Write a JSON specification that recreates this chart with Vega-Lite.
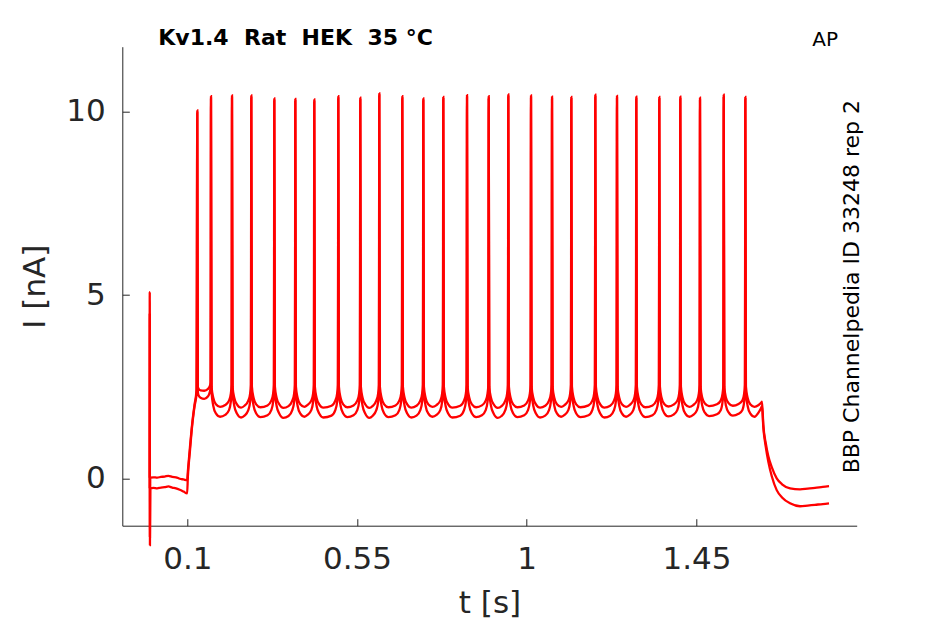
{
"$schema": "https://vega.github.io/schema/vega-lite/v6.json",
"width": 734.4,
"height": 479,
"autosize": {"type": "none"},
"padding": {"left": 122.3, "top": 46.7, "right": 88.3, "bottom": 98.3},
"background": "white",
"config": {"view": {"stroke": null}, "font": "DejaVu Sans"},
"title": {"text": "Kv1.4\u00a0 Rat\u00a0 HEK\u00a0 35 °C", "anchor": "start", "frame": "group", "dx": 36, "offset": -37, "baseline": "alphabetic", "fontSize": 22, "fontWeight": "bold", "font": "DejaVu Sans", "color": "#000000"},
"datasets": {
"A": [
{"t":0,"v":0.02},{"t":0.0004,"v":5.08},{"t":0.0009,"v":-1.82},{"t":0.0016,"v":0.02},
{"t":0.01,"v":0.03},{"t":0.02,"v":0.02},{"t":0.03,"v":0.04},{"t":0.04,"v":0.05},{"t":0.05,"v":0.07},{"t":0.06,"v":0.04},{"t":0.07,"v":0.03},{"t":0.08,"v":-0.01},{"t":0.09,"v":-0.03},{"t":0.0995,"v":-0.05},
{"t":0.1015,"v":0.2},{"t":0.107,"v":0.85},{"t":0.113,"v":1.5},{"t":0.119,"v":2.0},{"t":0.1245,"v":2.42},
{"t":0.1265,"v":10.03},{"t":0.128,"v":2.5},{"t":0.13,"v":2.44},{"t":0.135,"v":2.4},{"t":0.145,"v":2.39},{"t":0.155,"v":2.44},{"t":0.1598,"v":2.52},{"t":0.1618,"v":2.62},
{"t":0.1628,"v":10.42},{"t":0.1643,"v":2.5},{"t":0.1688,"v":2.2},{"t":0.1758,"v":2.02},{"t":0.1868,"v":1.95},{"t":0.2005,"v":2.0},{"t":0.2105,"v":2.12},{"t":0.2155,"v":2.32},{"t":0.2175,"v":2.55},
{"t":0.2185,"v":10.44},{"t":0.22,"v":2.5},{"t":0.2245,"v":2.2},{"t":0.2315,"v":2.02},{"t":0.2425,"v":1.93},{"t":0.2517,"v":1.98},{"t":0.2617,"v":2.12},{"t":0.2667,"v":2.32},{"t":0.2687,"v":2.55},
{"t":0.2697,"v":10.44},{"t":0.2712,"v":2.5},{"t":0.2757,"v":2.2},{"t":0.2827,"v":2.02},{"t":0.2937,"v":1.94},{"t":0.3127,"v":1.99},{"t":0.3227,"v":2.12},{"t":0.3277,"v":2.32},{"t":0.3297,"v":2.55},
{"t":0.3307,"v":10.36},{"t":0.3322,"v":2.5},{"t":0.3367,"v":2.2},{"t":0.3437,"v":2.02},{"t":0.3547,"v":1.92},{"t":0.3684,"v":1.97},{"t":0.3784,"v":2.12},{"t":0.3834,"v":2.32},{"t":0.3854,"v":2.55},
{"t":0.3864,"v":10.35},{"t":0.3879,"v":2.5},{"t":0.3924,"v":2.2},{"t":0.3994,"v":2.02},{"t":0.4104,"v":1.95},{"t":0.4187,"v":2.0},{"t":0.4287,"v":2.12},{"t":0.4337,"v":2.32},{"t":0.4357,"v":2.55},
{"t":0.4367,"v":10.33},{"t":0.4382,"v":2.5},{"t":0.4427,"v":2.2},{"t":0.4497,"v":2.02},{"t":0.4607,"v":1.93},{"t":0.4824,"v":1.98},{"t":0.4924,"v":2.12},{"t":0.4974,"v":2.32},{"t":0.4994,"v":2.55},
{"t":0.5004,"v":10.42},{"t":0.5019,"v":2.5},{"t":0.5064,"v":2.2},{"t":0.5134,"v":2.02},{"t":0.5244,"v":1.94},{"t":0.5407,"v":1.99},{"t":0.5507,"v":2.12},{"t":0.5557,"v":2.32},{"t":0.5577,"v":2.55},
{"t":0.5587,"v":10.38},{"t":0.5602,"v":2.5},{"t":0.5647,"v":2.2},{"t":0.5717,"v":2.02},{"t":0.5827,"v":1.92},{"t":0.5911,"v":1.97},{"t":0.6011,"v":2.12},{"t":0.6061,"v":2.32},{"t":0.6081,"v":2.55},
{"t":0.6091,"v":10.5},{"t":0.6106,"v":2.5},{"t":0.6151,"v":2.2},{"t":0.6221,"v":2.02},{"t":0.6331,"v":1.94},{"t":0.6521,"v":1.99},{"t":0.6621,"v":2.12},{"t":0.6671,"v":2.32},{"t":0.6691,"v":2.55},
{"t":0.6701,"v":10.42},{"t":0.6716,"v":2.5},{"t":0.6761,"v":2.2},{"t":0.6831,"v":2.02},{"t":0.6941,"v":1.93},{"t":0.7078,"v":1.98},{"t":0.7178,"v":2.12},{"t":0.7228,"v":2.32},{"t":0.7248,"v":2.55},
{"t":0.7258,"v":10.36},{"t":0.7273,"v":2.5},{"t":0.7318,"v":2.2},{"t":0.7388,"v":2.02},{"t":0.7498,"v":1.95},{"t":0.7608,"v":2.0},{"t":0.7708,"v":2.12},{"t":0.7758,"v":2.32},{"t":0.7778,"v":2.55},
{"t":0.7788,"v":10.4},{"t":0.7803,"v":2.5},{"t":0.7848,"v":2.2},{"t":0.7918,"v":2.02},{"t":0.8028,"v":1.93},{"t":0.8237,"v":1.98},{"t":0.8337,"v":2.12},{"t":0.8387,"v":2.32},{"t":0.8407,"v":2.55},
{"t":0.8417,"v":10.45},{"t":0.8432,"v":2.5},{"t":0.8477,"v":2.2},{"t":0.8547,"v":2.02},{"t":0.8657,"v":1.94},{"t":0.8812,"v":1.99},{"t":0.8912,"v":2.12},{"t":0.8962,"v":2.32},{"t":0.8982,"v":2.55},
{"t":0.8992,"v":10.42},{"t":0.9007,"v":2.5},{"t":0.9052,"v":2.2},{"t":0.9122,"v":2.02},{"t":0.9232,"v":1.92},{"t":0.9332,"v":1.97},{"t":0.9432,"v":2.12},{"t":0.9482,"v":2.32},{"t":0.9502,"v":2.55},
{"t":0.9512,"v":10.47},{"t":0.9527,"v":2.5},{"t":0.9572,"v":2.2},{"t":0.9642,"v":2.02},{"t":0.9752,"v":1.94},{"t":0.9934,"v":1.99},{"t":1.0034,"v":2.12},{"t":1.0084,"v":2.32},{"t":1.0104,"v":2.55},
{"t":1.0114,"v":10.44},{"t":1.0129,"v":2.5},{"t":1.0174,"v":2.2},{"t":1.0244,"v":2.02},{"t":1.0354,"v":1.93},{"t":1.0491,"v":1.98},{"t":1.0591,"v":2.12},{"t":1.0641,"v":2.32},{"t":1.0661,"v":2.55},
{"t":1.0671,"v":10.41},{"t":1.0686,"v":2.5},{"t":1.0731,"v":2.2},{"t":1.0801,"v":2.02},{"t":1.0911,"v":1.95},{"t":1.1003,"v":2.0},{"t":1.1103,"v":2.12},{"t":1.1153,"v":2.32},{"t":1.1173,"v":2.55},
{"t":1.1183,"v":10.4},{"t":1.1198,"v":2.5},{"t":1.1243,"v":2.2},{"t":1.1313,"v":2.02},{"t":1.1423,"v":1.94},{"t":1.1639,"v":1.99},{"t":1.1739,"v":2.12},{"t":1.1789,"v":2.32},{"t":1.1809,"v":2.55},
{"t":1.1819,"v":10.46},{"t":1.1834,"v":2.5},{"t":1.1879,"v":2.2},{"t":1.1949,"v":2.02},{"t":1.2059,"v":1.93},{"t":1.2214,"v":1.98},{"t":1.2314,"v":2.12},{"t":1.2364,"v":2.32},{"t":1.2384,"v":2.55},
{"t":1.2394,"v":10.43},{"t":1.2409,"v":2.5},{"t":1.2454,"v":2.2},{"t":1.2524,"v":2.02},{"t":1.2634,"v":1.95},{"t":1.2726,"v":2.0},{"t":1.2826,"v":2.12},{"t":1.2876,"v":2.32},{"t":1.2896,"v":2.55},
{"t":1.2906,"v":10.41},{"t":1.2921,"v":2.5},{"t":1.2966,"v":2.2},{"t":1.3036,"v":2.02},{"t":1.3146,"v":1.94},{"t":1.3336,"v":1.99},{"t":1.3436,"v":2.12},{"t":1.3486,"v":2.32},{"t":1.3506,"v":2.55},
{"t":1.3516,"v":10.4},{"t":1.3531,"v":2.5},{"t":1.3576,"v":2.2},{"t":1.3646,"v":2.03},{"t":1.3756,"v":1.96},{"t":1.3893,"v":2.01},{"t":1.3993,"v":2.12},{"t":1.4043,"v":2.32},{"t":1.4063,"v":2.55},
{"t":1.4073,"v":10.41},{"t":1.4088,"v":2.5},{"t":1.4133,"v":2.2},{"t":1.4203,"v":2.02},{"t":1.4313,"v":1.95},{"t":1.4415,"v":2.0},{"t":1.4515,"v":2.12},{"t":1.4565,"v":2.32},{"t":1.4585,"v":2.55},
{"t":1.4595,"v":10.38},{"t":1.461,"v":2.5},{"t":1.4655,"v":2.2},{"t":1.4725,"v":2.04},{"t":1.4835,"v":1.97},{"t":1.5044,"v":2.02},{"t":1.5144,"v":2.12},{"t":1.5194,"v":2.32},{"t":1.5214,"v":2.55},
{"t":1.5224,"v":10.46},{"t":1.5239,"v":2.5},{"t":1.5284,"v":2.2},{"t":1.5354,"v":2.05},{"t":1.5464,"v":1.98},{"t":1.5617,"v":2.03},{"t":1.5717,"v":2.12},{"t":1.5767,"v":2.32},{"t":1.5787,"v":2.55},
{"t":1.5797,"v":10.4},{"t":1.5812,"v":2.5},{"t":1.5857,"v":2.2},{"t":1.5927,"v":2.02},{"t":1.6037,"v":1.95},{"t":1.615,"v":2.0},{"t":1.6215,"v":2.06},{"t":1.6239,"v":2.09},
{"t":1.6274,"v":1.45},{"t":1.634,"v":0.95},{"t":1.6407,"v":0.6},{"t":1.65,"v":0.3},{"t":1.6629,"v":0.0},{"t":1.677,"v":-0.16},{"t":1.6982,"v":-0.27},{"t":1.7247,"v":-0.3},{"t":1.745,"v":-0.28},{"t":1.7645,"v":-0.26},{"t":1.785,"v":-0.23},{"t":1.8016,"v":-0.21}
],
"B": [
{"t":0,"v":-0.27},{"t":0.0004,"v":4.5},{"t":0.0009,"v":-1.6},{"t":0.0016,"v":-0.27},
{"t":0.01,"v":-0.26},{"t":0.02,"v":-0.27},{"t":0.03,"v":-0.25},{"t":0.04,"v":-0.24},{"t":0.05,"v":-0.22},{"t":0.06,"v":-0.25},{"t":0.07,"v":-0.27},{"t":0.08,"v":-0.31},{"t":0.09,"v":-0.36},{"t":0.0995,"v":-0.41},
{"t":0.1015,"v":0.05},{"t":0.107,"v":0.75},{"t":0.113,"v":1.45},{"t":0.119,"v":1.95},{"t":0.1245,"v":2.32},
{"t":0.1265,"v":9.97},{"t":0.128,"v":2.35},{"t":0.13,"v":2.26},{"t":0.135,"v":2.2},{"t":0.145,"v":2.17},{"t":0.155,"v":2.24},{"t":0.1598,"v":2.36},{"t":0.1618,"v":2.48},
{"t":0.1628,"v":10.36},{"t":0.1643,"v":2.35},{"t":0.1688,"v":1.98},{"t":0.1758,"v":1.77},{"t":0.1868,"v":1.68},{"t":0.2005,"v":1.73},{"t":0.2105,"v":1.86},{"t":0.2155,"v":2.1},{"t":0.2175,"v":2.4},
{"t":0.2185,"v":10.38},{"t":0.22,"v":2.35},{"t":0.2245,"v":1.98},{"t":0.2315,"v":1.77},{"t":0.2425,"v":1.66},{"t":0.2517,"v":1.71},{"t":0.2617,"v":1.86},{"t":0.2667,"v":2.1},{"t":0.2687,"v":2.4},
{"t":0.2697,"v":10.38},{"t":0.2712,"v":2.35},{"t":0.2757,"v":1.98},{"t":0.2827,"v":1.77},{"t":0.2937,"v":1.67},{"t":0.3127,"v":1.72},{"t":0.3227,"v":1.86},{"t":0.3277,"v":2.1},{"t":0.3297,"v":2.4},
{"t":0.3307,"v":10.3},{"t":0.3322,"v":2.35},{"t":0.3367,"v":1.98},{"t":0.3437,"v":1.77},{"t":0.3547,"v":1.65},{"t":0.3684,"v":1.7},{"t":0.3784,"v":1.86},{"t":0.3834,"v":2.1},{"t":0.3854,"v":2.4},
{"t":0.3864,"v":10.29},{"t":0.3879,"v":2.35},{"t":0.3924,"v":1.98},{"t":0.3994,"v":1.77},{"t":0.4104,"v":1.68},{"t":0.4187,"v":1.73},{"t":0.4287,"v":1.86},{"t":0.4337,"v":2.1},{"t":0.4357,"v":2.4},
{"t":0.4367,"v":10.27},{"t":0.4382,"v":2.35},{"t":0.4427,"v":1.98},{"t":0.4497,"v":1.77},{"t":0.4607,"v":1.66},{"t":0.4824,"v":1.71},{"t":0.4924,"v":1.86},{"t":0.4974,"v":2.1},{"t":0.4994,"v":2.4},
{"t":0.5004,"v":10.36},{"t":0.5019,"v":2.35},{"t":0.5064,"v":1.98},{"t":0.5134,"v":1.77},{"t":0.5244,"v":1.67},{"t":0.5407,"v":1.72},{"t":0.5507,"v":1.86},{"t":0.5557,"v":2.1},{"t":0.5577,"v":2.4},
{"t":0.5587,"v":10.32},{"t":0.5602,"v":2.35},{"t":0.5647,"v":1.98},{"t":0.5717,"v":1.77},{"t":0.5827,"v":1.65},{"t":0.5911,"v":1.7},{"t":0.6011,"v":1.86},{"t":0.6061,"v":2.1},{"t":0.6081,"v":2.4},
{"t":0.6091,"v":10.44},{"t":0.6106,"v":2.35},{"t":0.6151,"v":1.98},{"t":0.6221,"v":1.77},{"t":0.6331,"v":1.67},{"t":0.6521,"v":1.72},{"t":0.6621,"v":1.86},{"t":0.6671,"v":2.1},{"t":0.6691,"v":2.4},
{"t":0.6701,"v":10.36},{"t":0.6716,"v":2.35},{"t":0.6761,"v":1.98},{"t":0.6831,"v":1.77},{"t":0.6941,"v":1.66},{"t":0.7078,"v":1.71},{"t":0.7178,"v":1.86},{"t":0.7228,"v":2.1},{"t":0.7248,"v":2.4},
{"t":0.7258,"v":10.3},{"t":0.7273,"v":2.35},{"t":0.7318,"v":1.98},{"t":0.7388,"v":1.77},{"t":0.7498,"v":1.68},{"t":0.7608,"v":1.73},{"t":0.7708,"v":1.86},{"t":0.7758,"v":2.1},{"t":0.7778,"v":2.4},
{"t":0.7788,"v":10.34},{"t":0.7803,"v":2.35},{"t":0.7848,"v":1.98},{"t":0.7918,"v":1.77},{"t":0.8028,"v":1.66},{"t":0.8237,"v":1.71},{"t":0.8337,"v":1.86},{"t":0.8387,"v":2.1},{"t":0.8407,"v":2.4},
{"t":0.8417,"v":10.39},{"t":0.8432,"v":2.35},{"t":0.8477,"v":1.98},{"t":0.8547,"v":1.77},{"t":0.8657,"v":1.67},{"t":0.8812,"v":1.72},{"t":0.8912,"v":1.86},{"t":0.8962,"v":2.1},{"t":0.8982,"v":2.4},
{"t":0.8992,"v":10.36},{"t":0.9007,"v":2.35},{"t":0.9052,"v":1.98},{"t":0.9122,"v":1.77},{"t":0.9232,"v":1.65},{"t":0.9332,"v":1.7},{"t":0.9432,"v":1.86},{"t":0.9482,"v":2.1},{"t":0.9502,"v":2.4},
{"t":0.9512,"v":10.41},{"t":0.9527,"v":2.35},{"t":0.9572,"v":1.98},{"t":0.9642,"v":1.77},{"t":0.9752,"v":1.67},{"t":0.9934,"v":1.72},{"t":1.0034,"v":1.86},{"t":1.0084,"v":2.1},{"t":1.0104,"v":2.4},
{"t":1.0114,"v":10.38},{"t":1.0129,"v":2.35},{"t":1.0174,"v":1.98},{"t":1.0244,"v":1.77},{"t":1.0354,"v":1.66},{"t":1.0491,"v":1.71},{"t":1.0591,"v":1.86},{"t":1.0641,"v":2.1},{"t":1.0661,"v":2.4},
{"t":1.0671,"v":10.35},{"t":1.0686,"v":2.35},{"t":1.0731,"v":1.98},{"t":1.0801,"v":1.77},{"t":1.0911,"v":1.68},{"t":1.1003,"v":1.73},{"t":1.1103,"v":1.86},{"t":1.1153,"v":2.1},{"t":1.1173,"v":2.4},
{"t":1.1183,"v":10.34},{"t":1.1198,"v":2.35},{"t":1.1243,"v":1.98},{"t":1.1313,"v":1.77},{"t":1.1423,"v":1.67},{"t":1.1639,"v":1.72},{"t":1.1739,"v":1.86},{"t":1.1789,"v":2.1},{"t":1.1809,"v":2.4},
{"t":1.1819,"v":10.4},{"t":1.1834,"v":2.35},{"t":1.1879,"v":1.98},{"t":1.1949,"v":1.77},{"t":1.2059,"v":1.66},{"t":1.2214,"v":1.71},{"t":1.2314,"v":1.86},{"t":1.2364,"v":2.1},{"t":1.2384,"v":2.4},
{"t":1.2394,"v":10.37},{"t":1.2409,"v":2.35},{"t":1.2454,"v":1.98},{"t":1.2524,"v":1.77},{"t":1.2634,"v":1.68},{"t":1.2726,"v":1.73},{"t":1.2826,"v":1.86},{"t":1.2876,"v":2.1},{"t":1.2896,"v":2.4},
{"t":1.2906,"v":10.35},{"t":1.2921,"v":2.35},{"t":1.2966,"v":1.98},{"t":1.3036,"v":1.77},{"t":1.3146,"v":1.67},{"t":1.3336,"v":1.72},{"t":1.3436,"v":1.86},{"t":1.3486,"v":2.1},{"t":1.3506,"v":2.4},
{"t":1.3516,"v":10.34},{"t":1.3531,"v":2.35},{"t":1.3576,"v":1.98},{"t":1.3646,"v":1.78},{"t":1.3756,"v":1.69},{"t":1.3893,"v":1.74},{"t":1.3993,"v":1.86},{"t":1.4043,"v":2.1},{"t":1.4063,"v":2.4},
{"t":1.4073,"v":10.35},{"t":1.4088,"v":2.35},{"t":1.4133,"v":1.98},{"t":1.4203,"v":1.77},{"t":1.4313,"v":1.68},{"t":1.4415,"v":1.73},{"t":1.4515,"v":1.86},{"t":1.4565,"v":2.1},{"t":1.4585,"v":2.4},
{"t":1.4595,"v":10.32},{"t":1.461,"v":2.35},{"t":1.4655,"v":1.98},{"t":1.4725,"v":1.79},{"t":1.4835,"v":1.7},{"t":1.5044,"v":1.75},{"t":1.5144,"v":1.86},{"t":1.5194,"v":2.1},{"t":1.5214,"v":2.4},
{"t":1.5224,"v":10.4},{"t":1.5239,"v":2.35},{"t":1.5284,"v":1.98},{"t":1.5354,"v":1.8},{"t":1.5464,"v":1.71},{"t":1.5617,"v":1.76},{"t":1.5717,"v":1.86},{"t":1.5767,"v":2.1},{"t":1.5787,"v":2.4},
{"t":1.5797,"v":10.34},{"t":1.5812,"v":2.35},{"t":1.5857,"v":1.98},{"t":1.5927,"v":1.77},{"t":1.6037,"v":1.68},{"t":1.615,"v":1.8},{"t":1.6215,"v":1.92},{"t":1.6239,"v":1.97},
{"t":1.6274,"v":1.4},{"t":1.634,"v":0.85},{"t":1.6407,"v":0.45},{"t":1.65,"v":0.05},{"t":1.6629,"v":-0.32},{"t":1.677,"v":-0.52},{"t":1.6982,"v":-0.68},{"t":1.7247,"v":-0.76},{"t":1.745,"v":-0.74},{"t":1.7645,"v":-0.72},{"t":1.785,"v":-0.7},{"t":1.8016,"v":-0.68}
]
},
"layer": [
{
"data": {"name": "A"},
"mark": {"type": "line", "color": "#ff0000", "strokeWidth": 2.3, "interpolate": "monotone"},
"encoding": {
"x": {"field": "t", "type": "quantitative", "scale": {"domain": [-0.0724, 1.875], "nice": false, "zero": false},
"axis": {"orient": "bottom", "values": [0.1, 0.55, 1, 1.45], "format": ".3~g", "grid": false, "title": "t [s]", "titleFontSize": 31, "titleFontWeight": "normal", "titleColor": "#262626", "titleFont": "DejaVu Sans", "labelFont": "DejaVu Sans", "labelFontSize": 31, "labelColor": "#262626", "domainColor": "#262626", "tickColor": "#262626", "tickSize": -7, "labelPadding": 26, "titlePadding": 14, "labelFlush": false, "labelOverlap": false}},
"y": {"field": "v", "type": "quantitative", "scale": {"domain": [-1.29, 11.77], "nice": false, "zero": false},
"axis": {"orient": "left", "values": [0, 5, 10], "format": ".3~g", "grid": false, "title": "I [nA]", "titleFontSize": 31, "titleFontWeight": "normal", "titleColor": "#262626", "titleFont": "DejaVu Sans", "labelFont": "DejaVu Sans", "labelFontSize": 31, "labelColor": "#262626", "domainColor": "#262626", "tickColor": "#262626", "tickSize": -7, "labelPadding": 24, "titlePadding": 14, "labelFlush": false, "labelOverlap": false}}
}
},
{
"data": {"name": "B"},
"mark": {"type": "line", "color": "#ff0000", "strokeWidth": 2.3, "interpolate": "monotone"},
"encoding": {
"x": {"field": "t", "type": "quantitative",
"axis": {"orient": "top", "domain": false, "ticks": false, "labels": false, "grid": false, "title": "AP", "titleX": 702.3, "titleY": -1.2, "titleAngle": 0, "titleAlign": "center", "titleBaseline": "alphabetic", "titleFontSize": 20, "titleFontWeight": "normal", "titleColor": "#000000", "titleFont": "DejaVu Sans"}},
"y": {"field": "v", "type": "quantitative",
"axis": {"orient": "right", "domain": false, "ticks": false, "labels": false, "grid": false, "title": "BBP Channelpedia ID 33248 rep 2", "titleX": 2, "titleY": 239.5, "titleAngle": 270, "titleAlign": "center", "titleBaseline": "alphabetic", "titleFontSize": 22, "titleFontWeight": "normal", "titleColor": "#000000", "titleFont": "DejaVu Sans"}}
}
}
],
"resolve": {"axis": {"x": "independent", "y": "independent"}}
}
